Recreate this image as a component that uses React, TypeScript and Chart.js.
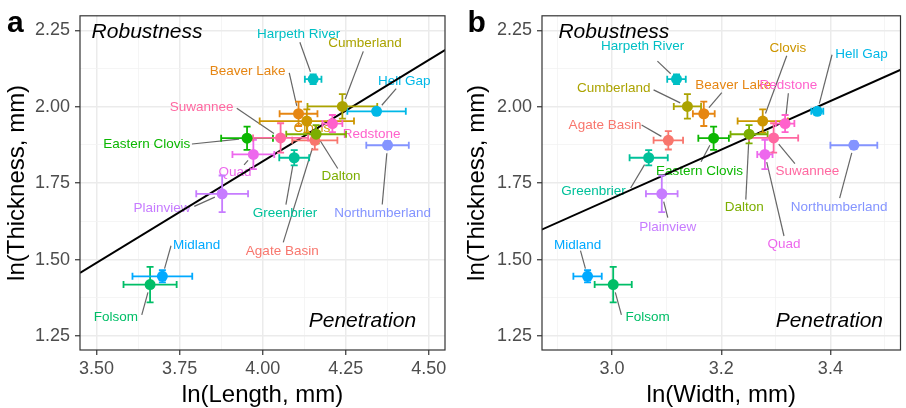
import React, { useEffect, useRef } from 'react';
import { Chart, registerables } from 'chart.js';
Chart.register(...registerables);

const FONT = "'Liberation Sans', Arial, Helvetica, sans-serif";

const sites = ['Agate Basin', 'Beaver Lake', 'Clovis', 'Cumberland', 'Dalton', 'Eastern Clovis', 'Folsom', 'Greenbrier', 'Harpeth River', 'Hell Gap', 'Midland', 'Northumberland', 'Plainview', 'Quad', 'Redstone', 'Suwannee'];
const siteColors = ['#F8766D', '#E68613', '#CD9600', '#ABA300', '#7CAE00', '#0CB702', '#00BE67', '#00C19A', '#00BFC4', '#00B8E7', '#00A9FF', '#8494FF', '#C77CFF', '#ED68ED', '#FF61CC', '#FF68A1'];

const thickness = [1.890, 1.977, 1.953, 2.001, 1.910, 1.897, 1.418, 1.833, 2.090, 1.985, 1.445, 1.874, 1.715, 1.844, 1.945, 1.898];
const thicknessErr = [0.030, 0.040, 0.038, 0.040, 0.030, 0.038, 0.058, 0.025, 0.016, 0.010, 0.020, 0.013, 0.060, 0.048, 0.028, 0.048];
const lengthVals = [4.157, 4.108, 4.133, 4.240, 4.161, 3.953, 3.661, 4.095, 4.152, 4.343, 3.698, 4.376, 3.878, 3.972, 4.210, 4.054];
const lengthErr = [0.068, 0.057, 0.142, 0.105, 0.090, 0.078, 0.080, 0.045, 0.025, 0.088, 0.090, 0.064, 0.078, 0.063, 0.030, 0.083];
const widthVals = [3.103, 3.168, 3.276, 3.138, 3.251, 3.186, 3.002, 3.067, 3.118, 3.376, 2.955, 3.443, 3.091, 3.280, 3.317, 3.296];
const widthErr = [0.027, 0.020, 0.046, 0.025, 0.034, 0.028, 0.034, 0.035, 0.017, 0.011, 0.026, 0.043, 0.029, 0.014, 0.017, 0.045];

const fitLengthX = [3.45, 4.55];
const fitLengthY = [1.456, 2.186];
const fitWidthX = [2.87, 3.53];
const fitWidthY = [1.597, 2.122];

const yTicks = [1.25, 1.5, 1.75, 2.0, 2.25];
const yMinor = [1.375, 1.625, 1.875, 2.125];
const lengthTicks = [3.5, 3.75, 4.0, 4.25, 4.5];
const lengthMinor = [3.625, 3.875, 4.125, 4.375];
const widthTicks = [3.0, 3.2, 3.4];
const widthMinor = [2.9, 3.1, 3.3, 3.5];

// repelled label positions and leader-line ends (data units)
const labelLenX = [4.059, 3.955, 4.148, 4.308, 4.236, 3.651, 3.558, 4.067, 4.108, 4.426, 3.801, 4.361, 3.697, 3.917, 4.328, 3.816];
const labelLenY = [1.527, 2.116, 1.930, 2.206, 1.771, 1.876, 1.311, 1.650, 2.237, 2.084, 1.548, 1.650, 1.669, 1.785, 1.911, 1.999];
const segLenX = [4.062, 4.080, null, 4.303, 4.226, 3.787, 3.636, 4.070, 4.112, 4.402, 3.724, 4.360, 3.794, 3.944, null, 3.922];
const segLenY = [1.556, 2.111, null, 2.181, 1.798, 1.878, 1.319, 1.680, 2.211, 2.059, 1.545, 1.680, 1.674, 1.810, null, 1.995];

const labelWidX = [2.987, 3.222, 3.322, 3.003, 3.242, 3.160, 3.065, 2.966, 3.056, 3.457, 2.937, 3.416, 3.102, 3.315, 3.323, 3.358];
const labelWidY = [1.939, 2.070, 2.192, 2.059, 1.671, 1.790, 1.311, 1.723, 2.197, 2.173, 1.548, 1.671, 1.604, 1.551, 2.070, 1.790];
const segWidX = [3.054, 3.201, 3.320, 3.076, 3.245, 3.163, 3.017, 3.034, 3.083, 3.403, 2.942, 3.417, 3.102, 3.315, 3.323, 3.335];
const segWidY = [1.940, 2.046, 2.167, 2.055, 1.696, 1.820, 1.319, 1.734, 2.149, 2.170, 1.529, 1.701, 1.637, 1.577, 2.044, 1.814];

const annotY = [2.224, 1.278];

type Panel = {
  letter: string; xTitle: string; xVals: number[]; xErr: number[];
  xMin: number; xMax: number; xTicks: number[]; xMinor: number[]; dec: number;
  fitX: number[]; fitY: number[];
  labX: number[]; labY: number[]; segX: (number | null)[]; segY: (number | null)[];
  robX: number; penX: number;
  yAxisW: number; rightPad: number; yTitlePad: number; letterX: number;
};

const panels: Panel[] = [
  {
    letter: 'a', xTitle: 'ln(Length, mm)', xVals: lengthVals, xErr: lengthErr,
    xMin: 3.45, xMax: 4.549, xTicks: lengthTicks, xMinor: lengthMinor, dec: 2,
    fitX: fitLengthX, fitY: fitLengthY,
    labX: labelLenX, labY: labelLenY, segX: segLenX, segY: segLenY,
    robX: 3.485, penX: 4.462,
    yAxisW: 80, rightPad: 10, yTitlePad: 5.5, letterX: 15.3,
  },
  {
    letter: 'b', xTitle: 'ln(Width, mm)', xVals: widthVals, xErr: widthErr,
    xMin: 2.8715, xMax: 3.5285, xTicks: widthTicks, xMinor: widthMinor, dec: 1,
    fitX: fitWidthX, fitY: fitWidthY,
    labX: labelWidX, labY: labelWidY, segX: segWidX, segY: segWidY,
    robX: 2.9016, penX: 3.4965,
    yAxisW: 87, rightPad: 1, yTitlePad: 10.5, letterX: 21.7,
  },
];

function tickSetter(major: number[], minor: number[]) {
  return (axis: any) => {
    const all = [...major.map(v => ({ value: v, minor: false })), ...minor.map(v => ({ value: v, minor: true }))];
    all.sort((a, b) => a.value - b.value);
    axis.ticks = all;
  };
}

function isMinor(ctx: any) {
  return ctx && ctx.tick && ctx.tick.minor;
}

function makeScale(axis: 'x' | 'y', p: Panel): any {
  const isX = axis === 'x';
  const major = isX ? p.xTicks : yTicks;
  const minor = isX ? p.xMinor : yMinor;
  const dec = isX ? p.dec : 2;
  return {
    type: 'linear',
    position: isX ? 'bottom' : 'left',
    min: isX ? p.xMin : 1.204,
    max: isX ? p.xMax : 2.2975,
    afterBuildTicks: tickSetter(major, minor),
    afterFit: (s: any) => {
      if (isX) s.height = 58; else s.width = p.yAxisW;
    },
    ticks: {
      autoSkip: false,
      maxRotation: 0,
      minRotation: 0,
      padding: isX ? 3 : 5,
      color: '#4D4D4D',
      font: { family: FONT, size: 18 },
      callback: (value: any, index: number, ticks: any[]) =>
        ticks[index] && ticks[index].minor ? '' : Number(value).toFixed(dec),
    },
    grid: {
      drawTicks: true,
      tickLength: 5,
      color: (ctx: any) => (isMinor(ctx) ? '#F2F2F2' : '#EBEBEB'),
      lineWidth: (ctx: any) => (isMinor(ctx) ? 0.8 : 1.5),
      tickColor: (ctx: any) => (isMinor(ctx) ? 'rgba(0,0,0,0)' : '#333333'),
      tickWidth: 1.2,
    },
    border: { display: false },
    title: {
      display: true,
      text: isX ? p.xTitle : 'ln(Thickness, mm)',
      color: '#000000',
      font: { family: FONT, size: 24, lineHeight: 1 },
      padding: isX ? { top: 0, bottom: 1 } : { top: p.yTitlePad, bottom: 0 },
    },
  };
}

function makePlugin(p: Panel) {
  return {
    id: 'panelDecor' + p.letter,
    beforeDatasetsDraw(chart: any) {
      const { ctx, chartArea: a, scales } = chart;
      const x = scales.x, y = scales.y;
      ctx.save();
      ctx.beginPath();
      ctx.rect(a.left, a.top, a.right - a.left, a.bottom - a.top);
      ctx.clip();
      ctx.fillStyle = '#000000';
      ctx.font = `italic 21px ${FONT}`;
      ctx.textBaseline = 'alphabetic';
      ctx.textAlign = 'left';
      ctx.fillText('Robustness', x.getPixelForValue(p.robX), y.getPixelForValue(annotY[0]));
      ctx.textAlign = 'right';
      ctx.fillText('Penetration', x.getPixelForValue(p.penX), y.getPixelForValue(annotY[1]));

      ctx.font = `13.5px ${FONT}`;
      ctx.textAlign = 'center';
      ctx.textBaseline = 'middle';
      sites.forEach((s, i) => {
        const sx = p.segX[i], sy = p.segY[i];
        if (sx != null && sy != null) {
          const px = x.getPixelForValue(p.xVals[i]);
          const py = y.getPixelForValue(thickness[i]);
          const ex = x.getPixelForValue(sx);
          const ey = y.getPixelForValue(sy);
          const dx = ex - px, dy = ey - py;
          const d = Math.hypot(dx, dy);
          if (d > 10) {
            ctx.strokeStyle = '#666666';
            ctx.lineWidth = 1.2;
            ctx.beginPath();
            ctx.moveTo(px + (dx / d) * 8, py + (dy / d) * 8);
            ctx.lineTo(ex, ey);
            ctx.stroke();
          }
        }
        ctx.fillStyle = siteColors[i];
        ctx.fillText(s, x.getPixelForValue(p.labX[i]), y.getPixelForValue(p.labY[i]));
      });
      ctx.restore();
    },
    beforeDatasetDraw(chart: any, args: any) {
      if (args.index !== 1) return;
      const { ctx, scales } = chart;
      const x = scales.x, y = scales.y;
      const cap = 3.5;
      ctx.save();
      ctx.lineWidth = 1.8;
      sites.forEach((_, i) => {
        const px = x.getPixelForValue(p.xVals[i]);
        const py = y.getPixelForValue(thickness[i]);
        const y1 = y.getPixelForValue(thickness[i] - thicknessErr[i]);
        const y2 = y.getPixelForValue(thickness[i] + thicknessErr[i]);
        const x1 = x.getPixelForValue(p.xVals[i] - p.xErr[i]);
        const x2 = x.getPixelForValue(p.xVals[i] + p.xErr[i]);
        ctx.strokeStyle = siteColors[i];
        ctx.beginPath();
        ctx.moveTo(px, y1); ctx.lineTo(px, y2);
        ctx.moveTo(px - cap, y1); ctx.lineTo(px + cap, y1);
        ctx.moveTo(px - cap, y2); ctx.lineTo(px + cap, y2);
        ctx.moveTo(x1, py); ctx.lineTo(x2, py);
        ctx.moveTo(x1, py - cap); ctx.lineTo(x1, py + cap);
        ctx.moveTo(x2, py - cap); ctx.lineTo(x2, py + cap);
        ctx.stroke();
      });
      ctx.restore();
    },
    afterDraw(chart: any) {
      const { ctx, chartArea: a } = chart;
      ctx.save();
      ctx.strokeStyle = '#333333';
      ctx.lineWidth = 1.2;
      ctx.strokeRect(a.left, a.top, a.right - a.left, a.bottom - a.top);
      ctx.fillStyle = '#000000';
      ctx.font = `bold 30px ${FONT}`;
      ctx.textAlign = 'center';
      ctx.textBaseline = 'alphabetic';
      ctx.fillText(p.letter, p.letterX, 31.7);
      ctx.restore();
    },
  };
}

function makeConfig(p: Panel): any {
  return {
    type: 'scatter',
    data: {
      datasets: [
        {
          label: 'fit',
          data: p.fitX.map((v, i) => ({ x: v, y: p.fitY[i] })),
          showLine: true,
          borderColor: '#000000',
          borderWidth: 2,
          pointRadius: 0,
          pointHoverRadius: 0,
          order: 1,
        },
        {
          label: 'sites',
          data: sites.map((_, i) => ({ x: p.xVals[i], y: thickness[i] })),
          backgroundColor: siteColors,
          borderWidth: 0,
          pointRadius: 5.5,
          pointHoverRadius: 5.5,
          order: 0,
        },
      ],
    },
    options: {
      responsive: false,
      animation: false,
      devicePixelRatio: 1,
      events: [],
      layout: { padding: { left: 0, right: p.rightPad, top: 12, bottom: 0 } },
      plugins: { legend: { display: false }, tooltip: { enabled: false }, title: { display: false } },
      scales: { x: makeScale('x', p), y: makeScale('y', p) },
    },
    plugins: [makePlugin(p)],
  };
}

export default function App() {
  const refA = useRef<HTMLCanvasElement | null>(null);
  const refB = useRef<HTMLCanvasElement | null>(null);
  useEffect(() => {
    const charts: Chart[] = [];
    if (refA.current) charts.push(new Chart(refA.current, makeConfig(panels[0])));
    if (refB.current) charts.push(new Chart(refB.current, makeConfig(panels[1])));
    return () => charts.forEach(c => c.destroy());
  }, []);
  return (
    <div style={{ position: 'absolute', left: 0, top: 0, width: 906, height: 408, background: '#ffffff', overflow: 'hidden' }}>
      <canvas ref={refA} width={455} height={408} style={{ position: 'absolute', left: 0, top: 0, width: 455, height: 408 }} />
      <canvas ref={refB} width={451} height={408} style={{ position: 'absolute', left: 455, top: 0, width: 451, height: 408 }} />
    </div>
  );
}
